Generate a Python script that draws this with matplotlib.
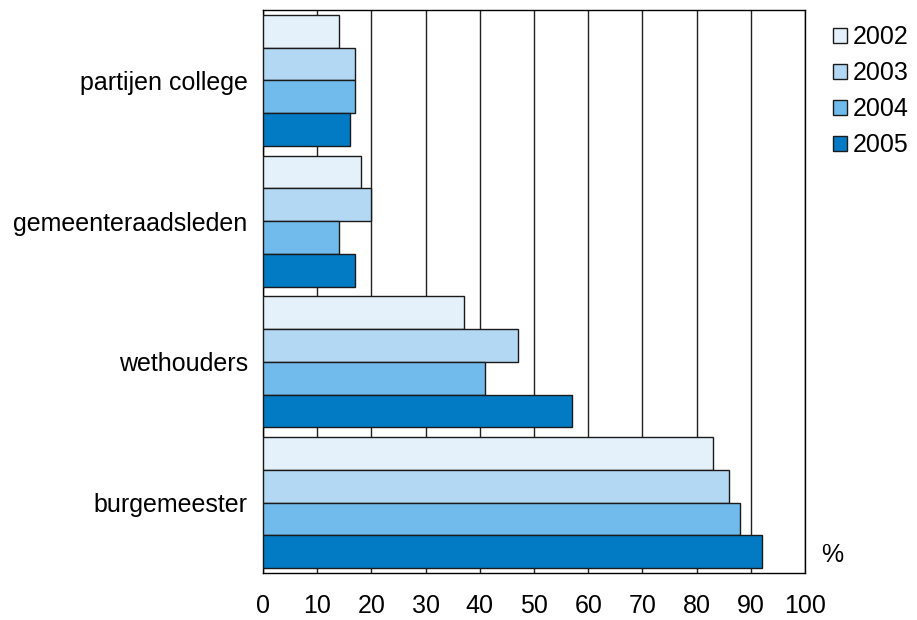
import matplotlib
matplotlib.use("Agg")
import numpy as np
from matplotlib import pyplot as plt

categories = ["partijen college", "gemeenteraadsleden", "wethouders", "burgemeester"]
years = ["2002", "2003", "2004", "2005"]
values = {
    "2002": [14, 18, 37, 83],
    "2003": [17, 20, 47, 86],
    "2004": [17, 14, 41, 88],
    "2005": [16, 17, 57, 92],
}
colors = ["#E4F0FA", "#B3D8F4", "#70BBEC", "#027BC4"]
xticks = list(range(0, 101, 10))

plt.rcParams["font.family"] = ["Liberation Sans", "DejaVu Sans"]

fig = plt.figure(figsize=(9.17, 6.2), dpi=100)
ax = fig.add_axes([263 / 917, 1 - 573 / 620, 542 / 917, 563 / 620])

h = 0.2325
ypos = np.arange(len(categories))
for j, yr in enumerate(years):
    ax.barh(ypos + (j - 1.5) * h, values[yr], height=h, color=colors[j],
            edgecolor="#1a1a1a", linewidth=1.0, label=yr, zorder=3)

ax.set_xlim(0, 100)
ax.set_ylim(len(categories) - 0.5, -0.5)
ax.set_xticks(xticks)
ax.set_xticklabels([str(t) for t in xticks], fontsize=18)
ax.set_yticks(ypos)
ax.set_yticklabels(categories, fontsize=18)
ax.tick_params(axis="x", length=0, pad=15)
ax.tick_params(axis="y", length=0, pad=11)
ax.grid(axis="x", color="#222222", linewidth=1.0, zorder=0)
ax.set_axisbelow(True)
for s in ax.spines.values():
    s.set_color("black")
    s.set_linewidth(1.0)

ax.text(1.05, 0.032, "%", transform=ax.transAxes, fontsize=18,
        ha="center", va="center")

leg = fig.legend(loc="upper left", bbox_to_anchor=(0.8975, 0.975), frameon=False,
                 fontsize=18, handlelength=0.55, handleheight=0.55,
                 handletextpad=0.25, labelspacing=0.48, borderaxespad=0)

plt.savefig("out.png", dpi=100)
